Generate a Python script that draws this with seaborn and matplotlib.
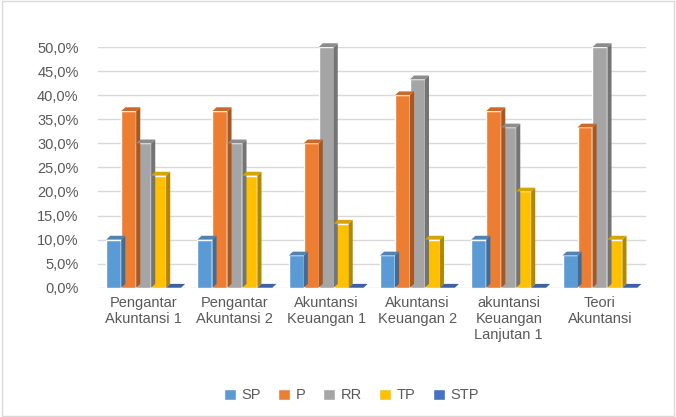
import numpy as np
import pandas as pd
import matplotlib
matplotlib.use("Agg")
import matplotlib.pyplot as plt
import seaborn as sns
from matplotlib.patches import Polygon, Patch
from matplotlib.colors import to_rgb
from matplotlib.ticker import FuncFormatter

categories = [
    "Pengantar\nAkuntansi 1",
    "Pengantar\nAkuntansi 2",
    "Akuntansi\nKeuangan 1",
    "Akuntansi\nKeuangan 2",
    "akuntansi\nKeuangan\nLanjutan 1",
    "Teori\nAkuntansi",
]
series = ["SP", "P", "RR", "TP", "STP"]
sp = [10.0, 10.0, 6.7, 6.7, 10.0, 6.7]
p = [36.7, 36.7, 30.0, 40.0, 36.7, 33.3]
rr = [30.0, 30.0, 50.0, 43.3, 33.3, 50.0]
tp = [23.3, 23.3, 13.3, 10.0, 20.0, 10.0]
stp = [0.0, 0.0, 0.0, 0.0, 0.0, 0.0]

colors = ["#5B9BD5", "#ED7D31", "#A5A5A5", "#FFC000", "#4472C4"]

df = pd.DataFrame({
    "kategori": categories * 5,
    "seri": np.repeat(series, len(categories)),
    "nilai": sp + p + rr + tp + stp,
})

sns.set_style("white")
plt.rcParams["font.family"] = ["Liberation Sans", "DejaVu Sans"]

fig = plt.figure(figsize=(6.76, 4.17), dpi=100)
ax = fig.add_axes([0.145, 0.31, 0.81, 0.577])

sns.barplot(
    data=df, x="kategori", y="nilai", hue="seri",
    palette=colors, width=0.82, saturation=1, ax=ax, legend=False,
    order=categories, hue_order=series,
)

ax.set_ylim(0, 50)
ax.set_xlim(-0.5, len(categories) - 0.5)
ax.set_yticks(np.arange(0, 50.1, 5))
ax.yaxis.set_major_formatter(FuncFormatter(lambda v, _: f"{v:.1f}%".replace(".", ",")))
ax.grid(axis="y", color="#D9D9D9", linewidth=1)
ax.set_axisbelow(True)
for s in ax.spines.values():
    s.set_visible(False)
ax.set_xlabel("")
ax.set_ylabel("")
ax.tick_params(axis="both", length=0, labelsize=10.5, labelcolor="#595959")
ax.tick_params(axis="y", pad=14)
ax.tick_params(axis="x", pad=6)

# pseudo-3D: side and top faces from the drawn bars
dx, dy = 0.045, 0.8
for i, patch in enumerate(list(ax.patches)):
    x0 = patch.get_x()
    w = patch.get_width()
    h = patch.get_height()
    base = to_rgb(patch.get_facecolor())
    side = tuple(c * 0.7 for c in base)
    top = tuple(c * 0.85 for c in base)
    x1 = x0 + w
    ax.add_patch(Polygon([(x1, 0), (x1 + dx, dy), (x1 + dx, h + dy), (x1, h)],
                         closed=True, facecolor=side, edgecolor="none", zorder=3,
                         clip_on=False))
    ax.add_patch(Polygon([(x0, h), (x0 + dx, h + dy), (x1 + dx, h + dy), (x1, h)],
                         closed=True, facecolor=top, edgecolor="none", zorder=3,
                         clip_on=False))
    patch.set_zorder(3)
    patch.set_clip_on(False)

handles = [Patch(facecolor=c, label=s) for c, s in zip(colors, series)]
fig.legend(handles=handles, loc="center", bbox_to_anchor=(0.52, 0.052), ncol=5,
           frameon=False, fontsize=10.5, handlelength=0.8, handleheight=0.8,
           handletextpad=0.4, columnspacing=1.2, labelcolor="#595959")

fig.patches.append(plt.Rectangle((0.003, 0.003), 0.994, 0.994, transform=fig.transFigure,
                                 fill=False, edgecolor="#D9D9D9", linewidth=1))

fig.savefig("out.png", dpi=100)
